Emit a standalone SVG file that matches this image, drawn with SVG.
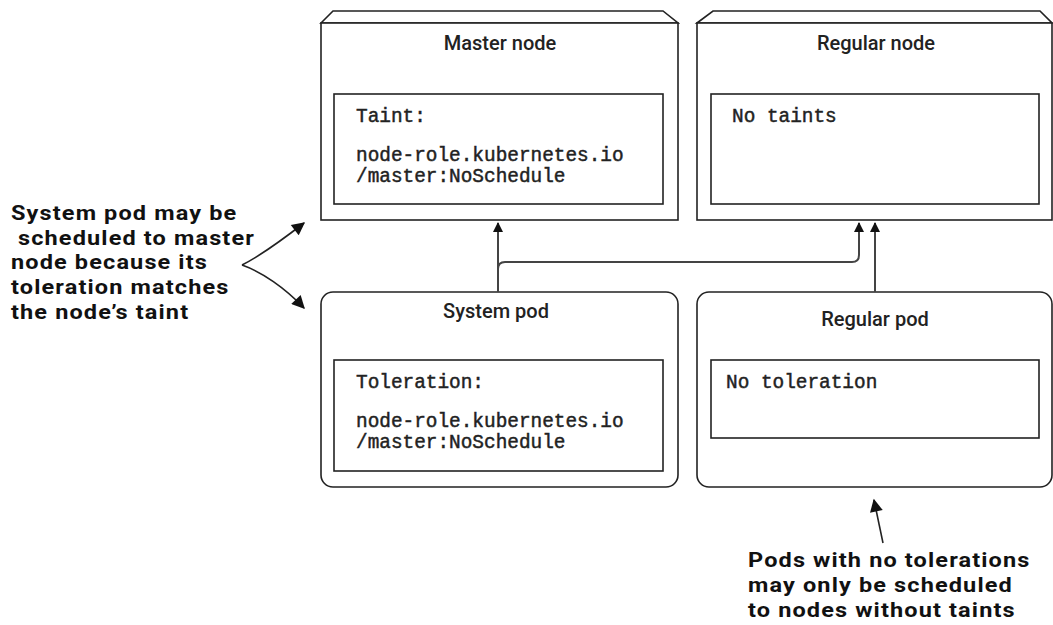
<svg xmlns="http://www.w3.org/2000/svg" width="1053" height="625" viewBox="0 0 1053 625">
<defs>
<style>
.box{fill:#fff;stroke:#222;stroke-width:1.6}
.inner{fill:#fff;stroke:#222;stroke-width:1.6}
.title{font-family:Roboto,"Liberation Sans",sans-serif;font-weight:500;font-size:20px;fill:#222;text-anchor:middle}
.mono{font-family:"Liberation Mono","Courier New",monospace;font-size:19.4px;fill:#222;stroke:#222;stroke-width:0.45}
.note{font-family:Roboto,"Liberation Sans",sans-serif;font-weight:bold;font-size:20.8px;letter-spacing:1px;fill:#111}
.conn{fill:none;stroke:#444;stroke-width:2}
.ann{fill:none;stroke:#222;stroke-width:1.6}
</style>
<marker id="ah" viewBox="0 0 10 10" refX="9" refY="5" markerWidth="13" markerHeight="10" orient="auto" markerUnits="userSpaceOnUse">
<path d="M0,0 L10,5 L0,10 z" fill="#111"/>
</marker>
<marker id="ah2" viewBox="0 0 10 10" refX="9" refY="5" markerWidth="15" markerHeight="13" orient="auto" markerUnits="userSpaceOnUse">
<path d="M0,0 L10,5 L0,10 z" fill="#111"/>
</marker>
</defs>
<rect width="1053" height="625" fill="#fff"/>

<g id="master-node">
<path class="box" d="M321,23 L333,11 L663,11 L678,23 Z"/>
<rect class="box" x="321" y="23" width="357" height="197"/>
<text class="title" x="500" y="50">Master node</text>
<rect class="inner" x="334" y="94" width="329" height="110"/>
<text class="mono" x="356" y="122">Taint:</text>
<text class="mono" x="356" y="161">node-role.kubernetes.io</text>
<text class="mono" x="356" y="182">/master:NoSchedule</text>
</g>

<g id="regular-node">
<path class="box" d="M697,23 L713,11 L1040,11 L1052,23 Z"/>
<rect class="box" x="697" y="23" width="355" height="197"/>
<text class="title" x="876" y="50">Regular node</text>
<rect class="inner" x="711" y="94" width="328" height="110"/>
<text class="mono" x="732" y="122">No taints</text>
</g>

<g id="system-pod">
<rect class="box" x="321" y="292" width="357" height="195" rx="12"/>
<text class="title" x="496" y="318">System pod</text>
<rect class="inner" x="334" y="360" width="329" height="111"/>
<text class="mono" x="356" y="388">Toleration:</text>
<text class="mono" x="356" y="427">node-role.kubernetes.io</text>
<text class="mono" x="356" y="448">/master:NoSchedule</text>
</g>

<g id="regular-pod">
<rect class="box" x="697" y="292" width="355" height="195" rx="12"/>
<text class="title" x="875" y="326">Regular pod</text>
<rect class="inner" x="711" y="360" width="328" height="78"/>
<text class="mono" x="726" y="388">No toleration</text>
</g>

<g id="connectors">
<path class="conn" d="M498,292 L498,223" marker-end="url(#ah)"/>
<path class="conn" d="M498,269 Q498,262 505,262 L852,262 Q859,262 859,255 L859,223" marker-end="url(#ah)"/>
<path class="conn" d="M875,292 L875,223" marker-end="url(#ah)"/>
</g>

<g id="annotation-left">
<g transform="translate(11,0) scale(1.13,1)">
<text class="note" xml:space="preserve"><tspan x="0" y="220">System pod may be</tspan><tspan x="0" y="244.7"> scheduled to master</tspan><tspan x="0" y="269.4">node because its</tspan><tspan x="0" y="294.1">toleration matches</tspan><tspan x="0" y="318.8">the node’s taint</tspan></text>
</g>
<path class="ann" d="M242,265 C262,255 282,240 304,223" marker-end="url(#ah2)"/>
<path class="ann" d="M242,265 C262,272 285,288 304,308" marker-end="url(#ah2)"/>
</g>

<g id="annotation-bottom">
<path class="ann" d="M883,543 L874,500" marker-end="url(#ah2)"/>
<g transform="translate(748,0) scale(1.13,1)">
<text class="note"><tspan x="0" y="567">Pods with no tolerations</tspan><tspan x="0" y="592">may only be scheduled</tspan><tspan x="0" y="617">to nodes without taints</tspan></text>
</g>
</g>
</svg>
